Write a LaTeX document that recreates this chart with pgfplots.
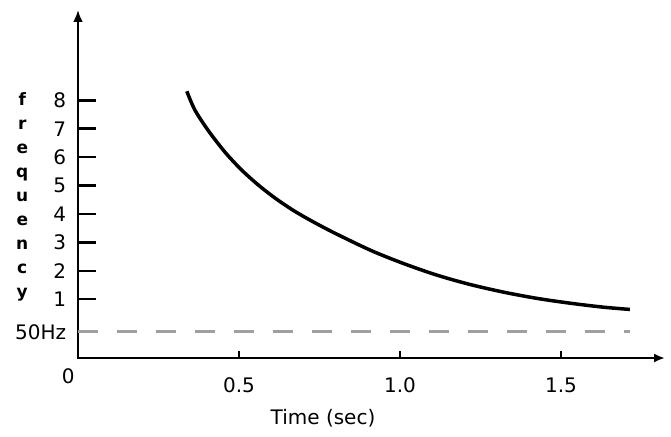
\documentclass[border=0pt]{standalone}
\usepackage{fontspec}
\setmainfont{DejaVu Sans}
\usepackage{pgfplots}
\pgfplotsset{compat=1.18}
\usetikzlibrary{arrows.meta}
\begin{document}
\fontsize{20}{24}\selectfont
\begin{tikzpicture}
  \begin{axis}[
      scale only axis,
      width=587pt,
      height=348pt,
      xmin=0, xmax=1.823,
      ymin=-1.07, ymax=11.18,
      axis lines=left,
      axis line style={draw=none},
      clip=false,
      xtick={0.5,1.0,1.5},
      xticklabels={0.5,1.0,1.5},
      ytick={-0.15,1,2,3,4,5,6,7,8},
      yticklabels={50Hz,1,2,3,4,5,6,7,8},
      tick align=inside,
      major x tick style={black,line width=2pt,/pgfplots/major tick length=7pt},
      major y tick style={black,line width=2.5pt,/pgfplots/major tick length=18pt},
      x tick label style={yshift=-13pt},
      y tick label style={xshift=-5pt},
      /pgf/number format/assume math mode=true,
      tick label style={font=\fontsize{20}{24}\selectfont},
    ]
    % invisible frame for the full picture area
    \path (axis cs:-0.2422,-3.82) rectangle (axis cs:1.8416,11.532);

    % axis lines with solid arrow heads
    \addplot[black, line width=2.2pt, -{Latex[length=11pt,width=9pt]}]
      coordinates {(-0.004,-1.07) (1.823,-1.07)};
    \addplot[black, line width=2.8pt, -{Latex[length=12pt,width=10pt]}]
      coordinates {(0,-1.12) (0,11.18)};

    % 50 Hz reference
    \addplot[gray!75, line width=3pt, dash pattern=on 20pt off 19pt]
      coordinates {(0,-0.15) (1.714,-0.15)};

    % frequency decay
    \addplot[black, line width=3.5pt, smooth, tension=0.5] coordinates {
      (0.338,8.32) (0.363,7.66) (0.405,6.93) (0.457,6.17) (0.508,5.55)
      (0.560,5.02) (0.612,4.56) (0.664,4.16) (0.715,3.82) (0.788,3.38)
      (0.907,2.73) (1.010,2.26) (1.114,1.85) (1.217,1.52) (1.321,1.25)
      (1.425,1.03) (1.528,0.86) (1.631,0.72) (1.714,0.64)
    };

    \node[anchor=north east, inner sep=0pt] at (axis cs:-0.01,-1.45) {0};
    \node at (axis cs:0.761,-3.19) {Time (sec)};
    \node[align=center, font=\fontsize{17}{24}\selectfont\bfseries]
      at (axis cs:-0.173,4.6) {f\\r\\e\\q\\u\\e\\n\\c\\y};
  \end{axis}
\end{tikzpicture}
\end{document}
